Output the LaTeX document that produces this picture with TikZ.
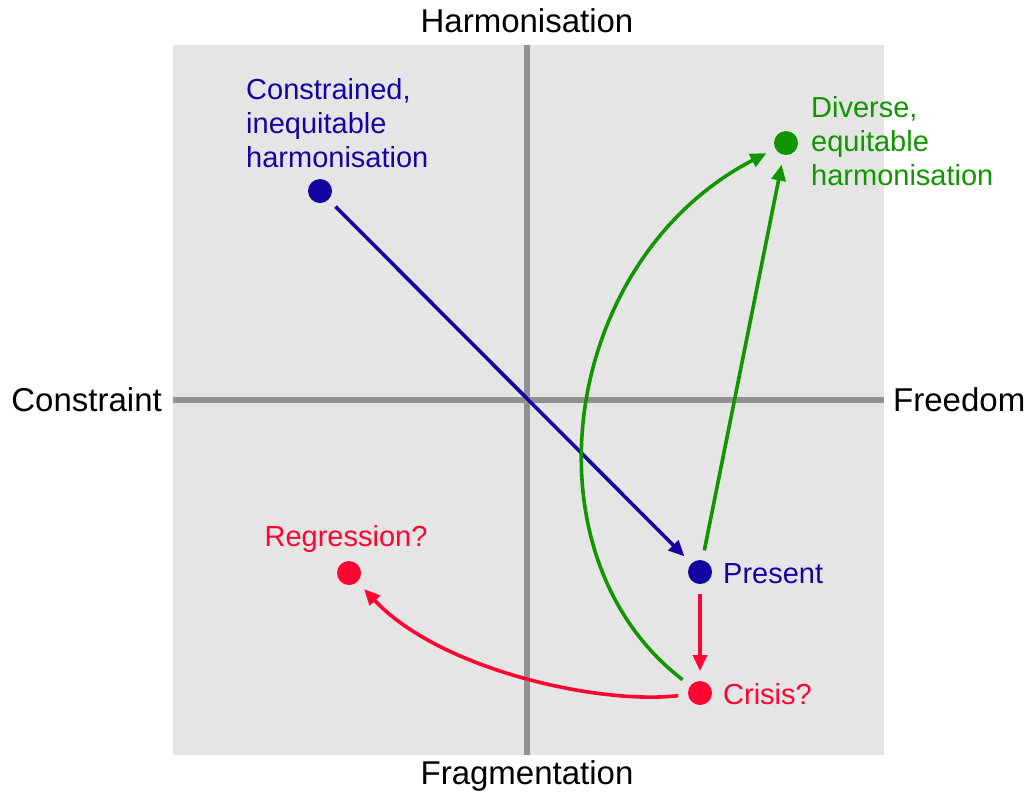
\documentclass[tikz,border=0pt]{standalone}
\usepackage{fontspec}
\setmainfont{Liberation Sans}
\usetikzlibrary{arrows.meta}
\definecolor{cblue}{RGB}{20,5,160}
\definecolor{cgreen}{RGB}{17,150,0}
\definecolor{cred}{RGB}{255,5,50}
\definecolor{cbg}{RGB}{229,229,229}
\definecolor{caxis}{RGB}{145,145,145}
\tikzset{
  dot/.style={circle,fill=#1,minimum size=24pt,inner sep=0pt,outer sep=10pt},
  axislabel/.style={font=\fontsize{33}{38}\selectfont,inner sep=0pt},
  ptlabel/.style={font=\fontsize{29}{34}\selectfont,inner sep=0pt,align=left,anchor=west,text=#1},
  conn/.style={draw=#1,line width=3.6pt,-{Triangle[length=16pt,width=14pt]}},
}
\begin{document}
\begin{tikzpicture}[x=1pt,y=-1pt]
\useasboundingbox (0,0) rectangle (1032,793);
\fill[cbg] (173,45) rectangle (884,755);
\coordinate (vt) at (527,45);
\coordinate (vb) at (527,755);
\coordinate (hl) at (173,400);
\coordinate (hr) at (884,400);
\draw[caxis,line width=6pt] (vt) -- (vb);
\draw[caxis,line width=6pt] (hl) -- (hr);
\node[axislabel] (harm) at (527,21) {Harmonisation};
\node[axislabel] (frag) at (527,776) {Fragmentation};
\node[axislabel,anchor=east] (cons) at (162,400) {Constraint};
\node[axislabel,anchor=west] (free) at (893,400) {Freedom};
\node[dot=cblue] (cih) at (320,191) {};
\node[dot=cgreen] (deh) at (786,143) {};
\node[dot=cblue] (pres) at (700,572) {};
\node[dot=cred] (cris) at (700,693) {};
\node[dot=cred] (regr) at (349,573) {};
\node[ptlabel=cblue] (lcih) at (246,123) {Constrained,\\inequitable\\harmonisation};
\node[ptlabel=cgreen] (ldeh) at (811,141) {Diverse,\\equitable\\harmonisation};
\node[ptlabel=cblue] (lpres) at (723,574) {Present};
\node[ptlabel=cred] (lcris) at (723,694) {Crisis?};
\node[ptlabel=cred,anchor=center] (lregr) at (346,539) {Regression?};
\draw[conn=cblue] (cih) -- (pres);
\draw[conn=cgreen] (pres) -- (deh);
\draw[conn=cred] (pres) -- (cris);
\draw[conn=cgreen] (cris) .. controls (520,555) and (560,260) .. (deh);
\draw[conn=cred] (cris) .. controls (600,705) and (440,670) .. (regr);
\end{tikzpicture}
\end{document}
